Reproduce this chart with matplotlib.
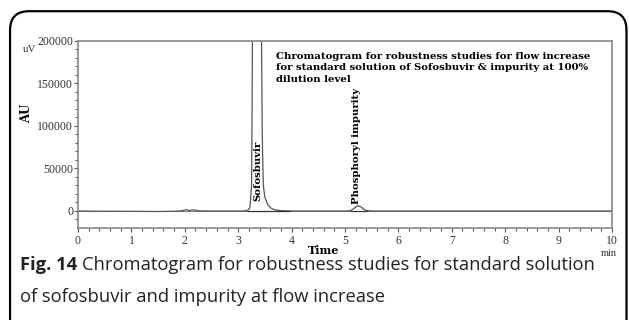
import matplotlib.pyplot as plt
from matplotlib.patches import FancyBboxPatch

# chromatogram trace (time in min, signal in uV)
time = [0.0, 0.5, 1.0, 1.5, 1.8, 1.95, 2.02, 2.08, 2.14, 2.2, 2.26, 2.4, 2.8, 3.1,
        3.18, 3.22, 3.25, 3.26, 3.27, 3.3, 3.35, 3.4, 3.43, 3.45, 3.47, 3.5,
        3.55, 3.6, 3.65, 3.72, 3.8, 4.0, 4.5, 5.0, 5.1, 5.15, 5.2, 5.25,
        5.3, 5.35, 5.4, 5.5, 6.0, 7.0, 8.0, 9.0, 10.0]
signal = [0, -300, -400, -600, -300, 300, 1600, 500, 1300, 1000, 200, 0, 0, 0,
          800, 4000, 30000, 120000, 260000, 520000, 600000, 480000, 260000, 90000, 30000, 16000,
          8000, 4000, 2200, 1000, 400, 0, 0, 0, 400, 2200, 4800, 6000,
          4800, 2000, 500, 0, 0, 0, 0, 0, 0]

# integration baselines
base_t = [(3.18, 3.97), (5.12, 5.42)]

title_lines = ["Chromatogram for robustness studies for flow increase",
               "for standard solution of Sofosbuvir & impurity at 100%",
               "dilution level"]

fig = plt.figure(figsize=(6.29, 3.2), dpi=100)

# rounded frame around the panel
frame = FancyBboxPatch((0.016, -0.2), 0.98, 1.165, boxstyle="round,pad=0,rounding_size=0.03",
                       transform=fig.transFigure, fill=False, ec="black", lw=1.6,
                       mutation_aspect=629 / 320)
fig.patches.append(frame)

ax = fig.add_axes([0.124, 0.2875, 0.849, 0.5845])
ax.plot(time, signal, color="#555555", lw=0.9)
for a, b in base_t:
    ax.plot([a, b], [0, 0], color="#333333", lw=0.9)
ax.axhline(0, color="#777777", lw=0.7, zorder=0)

ax.set_xlim(0, 10)
ax.set_ylim(-20000, 200000)
ax.set_xticks(range(11))
ax.set_xticks([i * 0.2 for i in range(51)], minor=True)
ax.set_yticks([0, 50000, 100000, 150000, 200000])
ax.set_yticks([i * 10000 for i in range(-1, 21)], minor=True)
for s in ax.spines.values():
    s.set_color("#888888")
    s.set_linewidth(1.2)
ax.tick_params(which="both", direction="out", color="#555555", labelcolor="#333333",
               labelsize=8.5, width=0.8)
ax.tick_params(which="major", length=3)
ax.tick_params(which="minor", length=2)
ax.tick_params(axis="x", pad=2)
ax.tick_params(axis="y", pad=0.5)
for lab in ax.get_xticklabels() + ax.get_yticklabels():
    lab.set_family("Liberation Serif")

ax.set_ylabel("AU", fontsize=8.5, fontweight="bold", family="DejaVu Serif")
ax.yaxis.set_label_coords(-0.085, 0.615)
ax.set_xlabel("Time", fontsize=8, fontweight="bold", family="DejaVu Serif")
ax.xaxis.set_label_coords(0.46, -0.09)
fig.text(0.037, 0.838, "uV", fontsize=8, family="Liberation Serif", color="#333333")
fig.text(0.98, 0.2, "min", fontsize=7.5, family="Liberation Serif", color="#333333", ha="right")

ax.text(3.7, 187000, "\n".join(title_lines), fontsize=7.3, fontweight="bold",
        family="DejaVu Serif", va="top", linespacing=1.33)
ax.text(3.36, 11500, "Sofosbuvir", rotation=90, fontsize=7.3, fontweight="bold",
        family="DejaVu Serif", ha="center", va="bottom")
ax.text(5.22, 8500, "Phosphoryl impurity", rotation=90, fontsize=7.3, fontweight="bold",
        family="DejaVu Serif", ha="center", va="bottom")

# caption: bold figure number, then the regular text right after it
cap_x, cap_y1, cap_y2 = 0.032, 0.157, 0.055
fig_num = fig.text(cap_x, cap_y1, "Fig. 14", fontsize=13.2, fontweight="bold",
                   family="Open Sans", color="#222222")
r = fig.canvas.get_renderer()
w = fig_num.get_window_extent(r).width / fig.bbox.width
fig.text(cap_x + w + 0.008, cap_y1, "Chromatogram for robustness studies for standard solution",
         fontsize=13.2, family="Open Sans", color="#222222")
fig.text(cap_x, cap_y2, "of sofosbuvir and impurity at flow increase",
         fontsize=13.2, family="Open Sans", color="#222222")

fig.savefig("out.png", dpi=100)
